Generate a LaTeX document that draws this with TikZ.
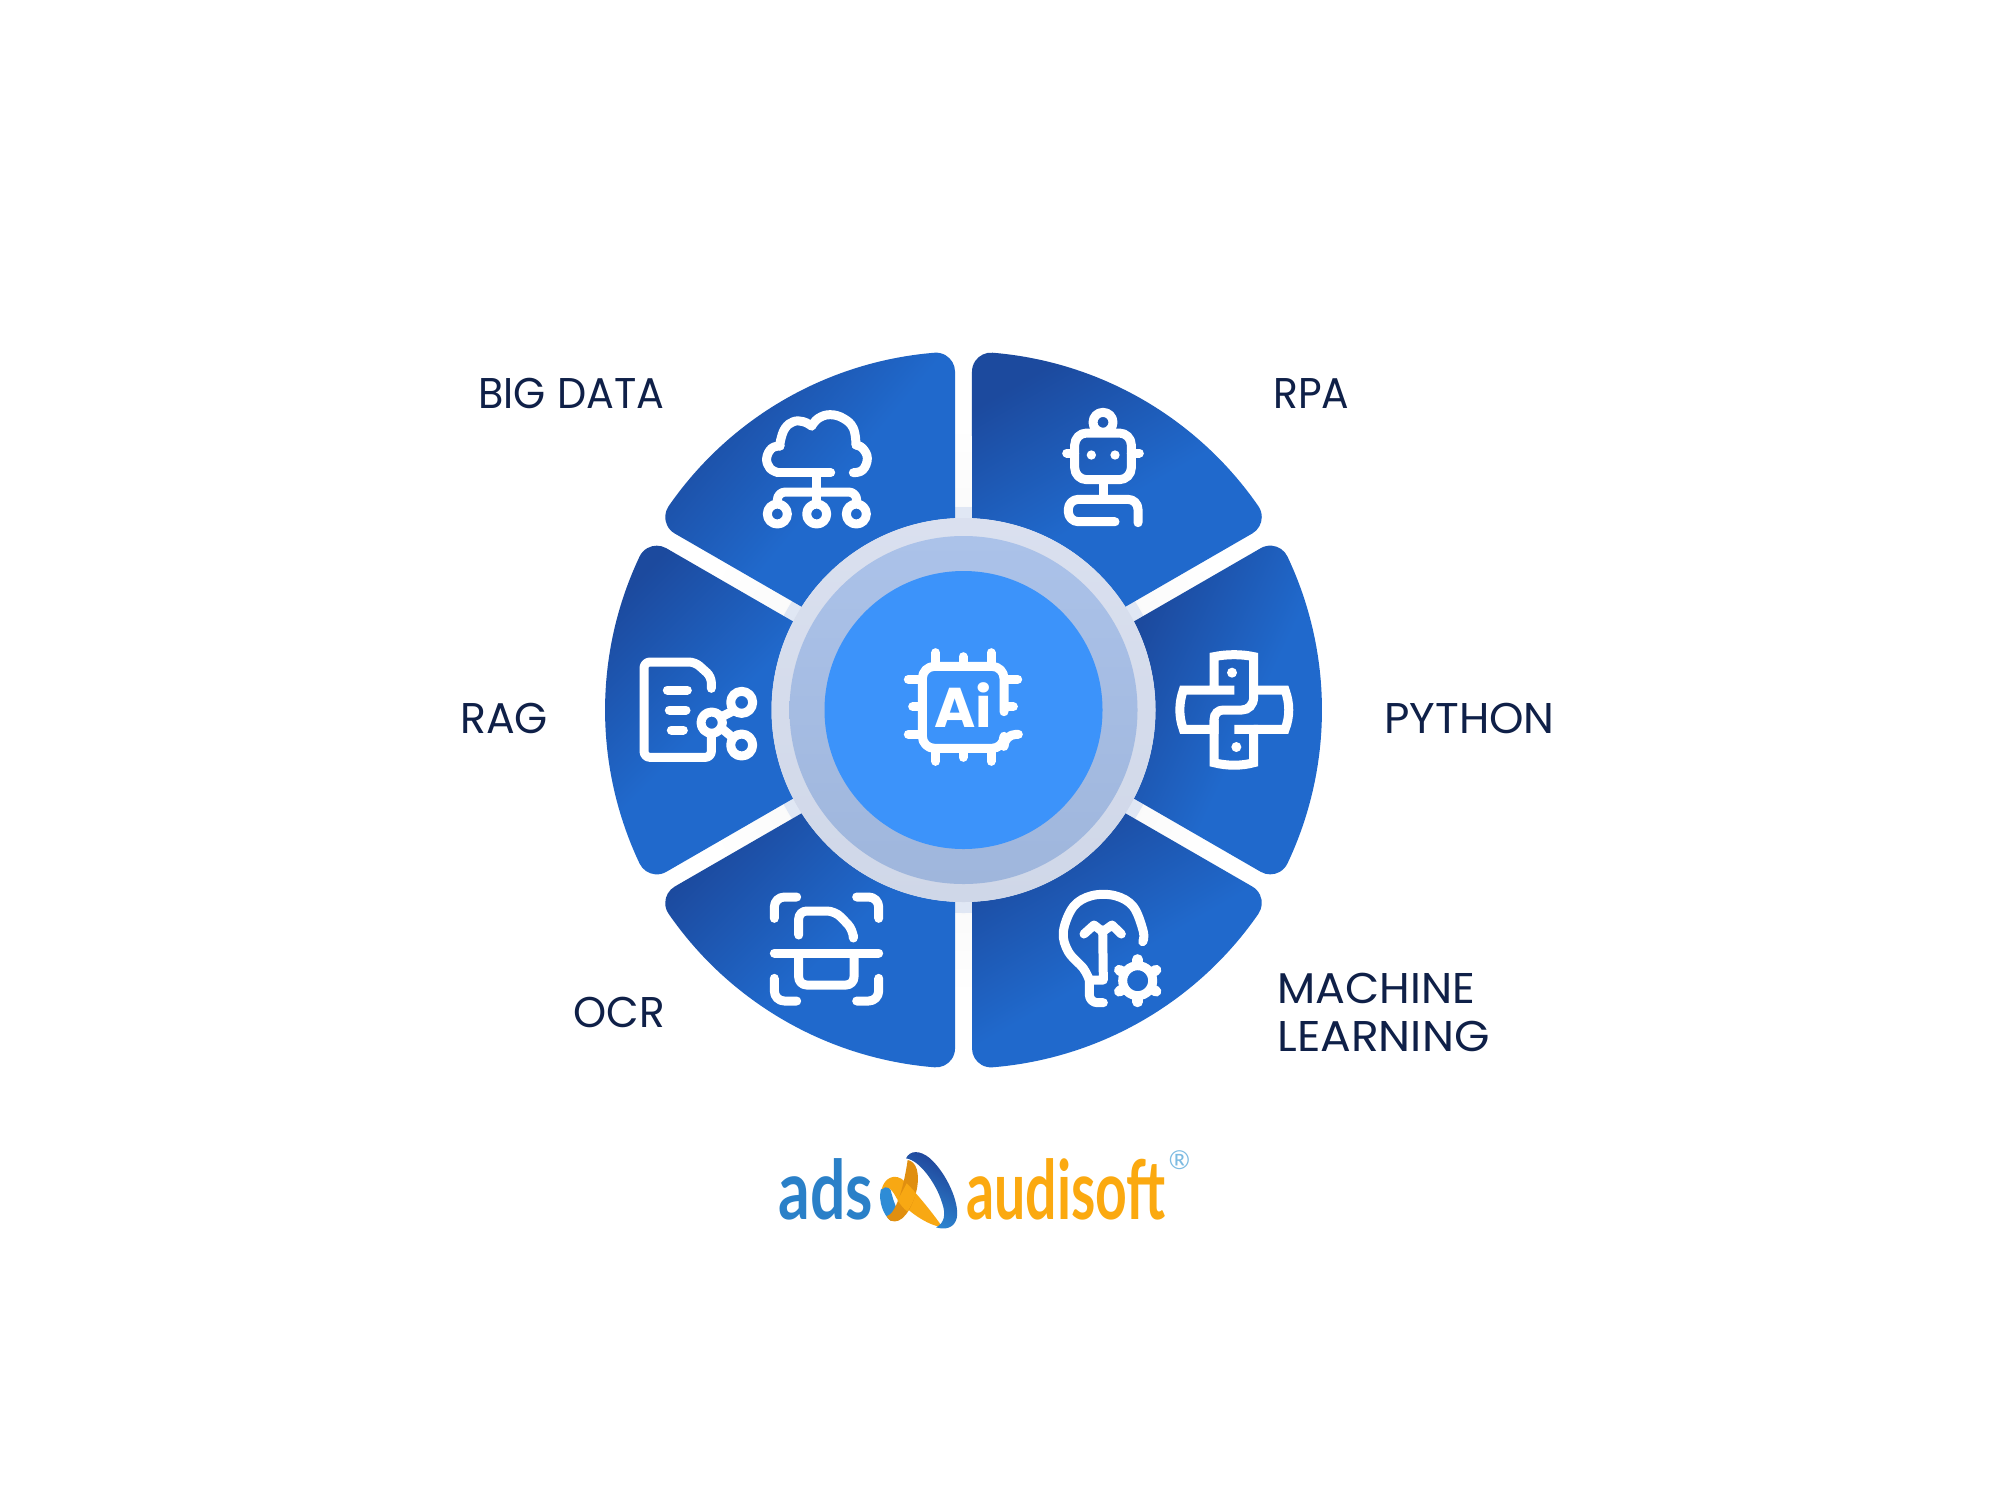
\documentclass[tikz,border=0pt]{standalone}
\usepackage{fontspec}
\setmainfont{Lato}
\newfontfamily\labfont{Poppins}
\newfontfamily\aifont{Poppins}
\newfontfamily\logofont{Lato}
\usetikzlibrary{calc}
\definecolor{inkc}{HTML}{0F2048}
\definecolor{coreblue}{HTML}{3C93FA}
\definecolor{ringa}{HTML}{DAE0EF}
\definecolor{ringb}{HTML}{CFD7E8}
\definecolor{ringc}{HTML}{ABC2E9}
\definecolor{ringd}{HTML}{9FB6DC}
\definecolor{halodisc}{HTML}{E0E7F4}
\definecolor{halo}{HTML}{EFEFEF}
\definecolor{adsblue}{HTML}{2A80C8}
\definecolor{audorange}{HTML}{FBA910}
\definecolor{regblue}{HTML}{7DBBE2}
\definecolor{swdark}{HTML}{1F3F95}
\definecolor{swmid}{HTML}{2E8CD6}
\definecolor{swor}{HTML}{F8A813}
\definecolor{swordark}{HTML}{E08F10}
\pgfdeclareverticalshading{secgrad}{100bp}{rgb(0bp)=(.125,.412,.8); rgb(46bp)=(.125,.412,.8); rgb(75bp)=(.11,.29,.62); rgb(100bp)=(.11,.29,.62)}
\tikzset{
  zf/.style 2 args={shift={(#1,#2)},x=.1666667pt,y=-.1666667pt},
  ic/.style={draw=white,line width=4.5pt,line cap=round,line join=round},
  lab/.style={anchor=base west,inner sep=0pt,text=inkc,font=\labfont\fontsize{21.5}{21.5}\selectfont},
  logotxt/.style={anchor=base west,inner sep=0pt,font=\logofont\bfseries\fontsize{41}{41}\selectfont},
}
\def\Ro{358.5}\def\Ri{192}\def\rr{19}\def\gp{8.5}
\newcommand\secshape[2]{%
  \pgfmathsetmacro\au{#1+60}%
  \shade[shading=secgrad,shading angle=#2]
    ({#1+\di}:\Ri) -- ({#1+\dt}:\rt)
    arc[start angle=#1-90,end angle=#1+\dc,radius=\rr]
    arc[start angle=#1+\dc,end angle=\au-\dc,radius=\Ro]
    arc[start angle=\au-\dc,end angle=\au+90,radius=\rr]
    -- ({\au-\di}:\Ri)
    arc[start angle=\au-\di,end angle=#1+\di,radius=\Ri] -- cycle;
}
\begin{document}
\begin{tikzpicture}[x=.5pt,y=-.5pt]
\useasboundingbox (0,0) rectangle (2000,1500);
\fill[white] (0,0) rectangle (2000,1500);
% halo, sectors, rings
\begin{scope}[shift={(963.5,710)},y=.5pt]
  \shade[inner color=halo,outer color=white] (0,0) circle[radius=285];
  \fill[halodisc] (0,0) circle[radius=203];
  \pgfmathsetmacro\dc{asin((\gp+\rr)/(\Ro-\rr))}
  \pgfmathsetmacro\di{asin(\gp/\Ri)}
  \pgfmathsetmacro\rtt{(\Ro-\rr)*cos(\dc)}
  \pgfmathsetmacro\dt{atan(\gp/\rtt)}
  \pgfmathsetmacro\rt{\rtt/cos(\dt)}
  \secshape{30}{30}\secshape{-30}{65}\secshape{-90}{30}\secshape{-150}{45}\secshape{150}{45}\secshape{90}{50}
  \shade[top color=ringa,bottom color=ringb] (0,0) circle[radius=192];
  \shade[top color=ringc,bottom color=ringd] (0,0) circle[radius=174];
  \fill[coreblue] (0,0) circle[radius=139];
\end{scope}
% cloud
\begin{scope}[zf={640}{340}]
  \draw[ic] plot[smooth,tension=.7] coordinates {(640,398)(668,390)(682,355)(668,325)(648,315)};
  \draw[ic] plot[smooth,tension=.7] coordinates {(648,315)(640,265)(610,235)(570,224)(535,235)(515,258)};
  \draw[ic] plot[smooth,tension=.7] coordinates {(515,258)(490,245)(460,245)(435,265)(422,300)(420,318)};
  \draw[ic] plot[smooth,tension=.7] coordinates {(420,318)(395,325)(380,355)(390,385)(415,398)};
  \draw[ic] (415,398) -- (572,398);
  \draw[ic] (530,398) -- (530,490);
  \draw[ic,rounded corners=4pt] (412,490) -- (412,456) -- (650,456) -- (650,490);
  \foreach \cx in {412,530,649} \draw[ic,fill=none] (\cx,522) circle[radius=30];
\end{scope}
% robot
\begin{scope}[zf={960}{340}]
  \draw[ic] (429,247) circle[radius=30];
  \draw[ic,rounded corners=6pt] (344,279) rectangle (514,419);
  \fill[white] (394,345) circle[radius=14] (465,345) circle[radius=14];
  \draw[ic] (320,339) -- (344,339) (538,339) -- (514,339);
  \draw[ic] (429,419) -- (429,478);
  \draw[ic,rounded corners=5pt] (534,548) -- (534,478) -- (325,478) -- (325,545) -- (465,545);
\end{scope}
% python
\begin{scope}[zf={1120}{540}]
  \draw[ic,line cap=butt,line join=miter] (282,450) -- (282,350) .. controls (320,342) and (365,342) .. (401,350) -- (401,470) .. controls (401,495) and (385,510) .. (365,510) -- (310,510) .. controls (295,510) and (282,520) .. (282,540) -- (282,568) -- (190,568) .. controls (176,530) and (176,490) .. (190,450) -- (343,450);
  \draw[ic,line cap=butt,line join=miter] (282,540) -- (282,668) .. controls (320,678) and (365,678) .. (401,668) -- (401,568) -- (343,568);
  \draw[ic,line cap=butt,line join=miter] (401,568) -- (495,568) .. controls (510,530) and (510,490) .. (495,450) -- (401,450);
  \fill[white] (336,398) circle[radius=15] (349,621) circle[radius=15];
\end{scope}
% document graph
\begin{scope}[zf={610}{540}]
  \draw[ic,rounded corners=3pt] (304,445) -- (304,410) -- (255,366) -- (102,366) -- (102,652) -- (304,652) -- (304,590);
  \draw[ic] (172,450) -- (232,450) (178,510) -- (228,510) (184,570) -- (220,570);
  \draw[ic] (305,548) circle[radius=32] (395,487) circle[radius=33] (395,615) circle[radius=33];
  \draw[ic] (335,530) -- (365,515) (335,565) -- (365,590);
\end{scope}
% chip
\begin{scope}[zf={850}{600}]
  \draw[ic,rounded corners=6pt] (462,335) -- (462,199) -- (217,199) -- (217,445) -- (462,445) -- (462,403) -- (505,403);
  \draw[ic] (257,158) -- (257,190) (339,170) -- (339,190) (423,158) -- (423,190);
  \draw[ic] (257,484) -- (257,450) (339,472) -- (339,450) (423,484) -- (423,450);
  \draw[ic] (175,238) -- (210,238) (188,320) -- (210,320) (175,403) -- (210,403);
  \draw[ic] (503,238) -- (470,238) (490,320) -- (470,320);
  \node[anchor=base,inner sep=0pt,text=white,font=\aifont\bfseries\fontsize{28}{28}\selectfont] (chiptext) at (340,383) {Ai};
\end{scope}
% bulb and gear
\begin{scope}[zf={960}{860}]
  \draw[ic] plot[smooth,tension=.6] coordinates {(548,245)(550,215)(520,140)(465,107)(395,107)(340,140)(310,215)(325,275)(370,325)(388,360)};
  \draw[ic,rounded corners=4pt] (388,360) -- (388,428) -- (430,428);
  \draw[ic] (388,360) -- (430,360) -- (428,210);
  \draw[ic] (372,222) -- (402,195) -- (428,215) -- (456,195) -- (484,222);
  \draw[ic] (533,362) circle[radius=45];
  \foreach \a in {30,90,150,210,270,330}
    \draw[draw=white,line width=5.2pt,line cap=round] ([shift={(\a:50)}]533,362) -- ([shift={(\a:64)}]533,362);
\end{scope}
% ocr
\begin{scope}[zf={650}{860}]
  \draw[ic,rounded corners=5pt] (373,175) -- (373,111) -- (440,111);
  \draw[ic,rounded corners=5pt] (620,111) -- (686,111) -- (686,175);
  \draw[ic,rounded corners=5pt] (373,355) -- (373,423) -- (440,423);
  \draw[ic,rounded corners=5pt] (686,355) -- (686,423) -- (620,423);
  \draw[ic] (373,279) -- (686,279);
  \draw[ic,rounded corners=4pt] (446,225) -- (446,153) -- (555,153) -- (610,210) -- (610,225);
  \draw[ic,rounded corners=4pt] (446,290) -- (446,375) -- (612,375) -- (612,290);
\end{scope}
% labels
\node[lab] (bigdata) at (478,408) {\scalebox{.96}[1]{BIG DATA}};
\node[lab] (rpa) at (1273,408) {\scalebox{.95}[1]{RPA}};
\node[lab] (python) at (1384,733) {\scalebox{1.02}[1]{PYTHON}};
\node[lab] (rag) at (460,733) {\scalebox{.99}[1]{RAG}};
\node[lab] (ocr) at (573,1027) {\scalebox{.98}[1]{OCR}};
\node[lab] (ml1) at (1277,1003) {\scalebox{1.03}[1]{MACHINE}};
\node[lab] (ml2) at (1277,1051) {\scalebox{1.06}[1]{LEARNING}};
% logo
\begin{scope}[zf={760}{1130}]
  \node[logotxt,text=adsblue] (ads) at (55,268) {\scalebox{.76}[1]{ads}};
  \node[logotxt,text=audorange] (audi) at (618,268) {\scalebox{.675}[1]{audisoft}};
  \node[anchor=center,inner sep=0pt,text=regblue,font=\logofont\fontsize{13}{13}\selectfont] (reg) at (1258,90) {®};
  % light band
  \fill[swmid] (362,180) .. controls (372,165) and (385,165) .. (392,180) .. controls (398,205) and (405,225) .. (412,240) -- (392,272) .. controls (370,255) and (355,215) .. (362,180) -- cycle;
  % orange ribbons
  \fill[swor] (365,178) .. controls (372,145) and (405,125) .. (435,155) .. controls (470,190) and (515,245) .. (548,292) .. controls (500,285) and (445,245) .. (410,205) .. controls (392,170) and (378,165) .. (365,178) -- cycle;
  \fill[swordark] (443,90) .. controls (470,95) and (480,130) .. (470,180) .. controls (455,240) and (425,285) .. (392,272) .. controls (385,268) and (382,264) .. (380,258) .. controls (405,255) and (430,180) .. (443,90) -- cycle;
  \fill[swor] (440,160) .. controls (450,170) and (460,180) .. (468,190) .. controls (460,215) and (452,230) .. (442,245) .. controls (430,235) and (420,222) .. (412,210) .. controls (422,195) and (432,175) .. (440,160) -- cycle;
  % blue ring
  \shade[left color=swdark,right color=swmid,shading angle=-30] (438,85) .. controls (450,60) and (480,60) .. (510,85) .. controls (560,130) and (600,220) .. (590,265) .. controls (582,295) and (555,300) .. (528,292) .. controls (552,280) and (560,255) .. (545,215) .. controls (530,165) and (480,90) .. (438,85) -- cycle;
\end{scope}
\end{tikzpicture}
\end{document}
